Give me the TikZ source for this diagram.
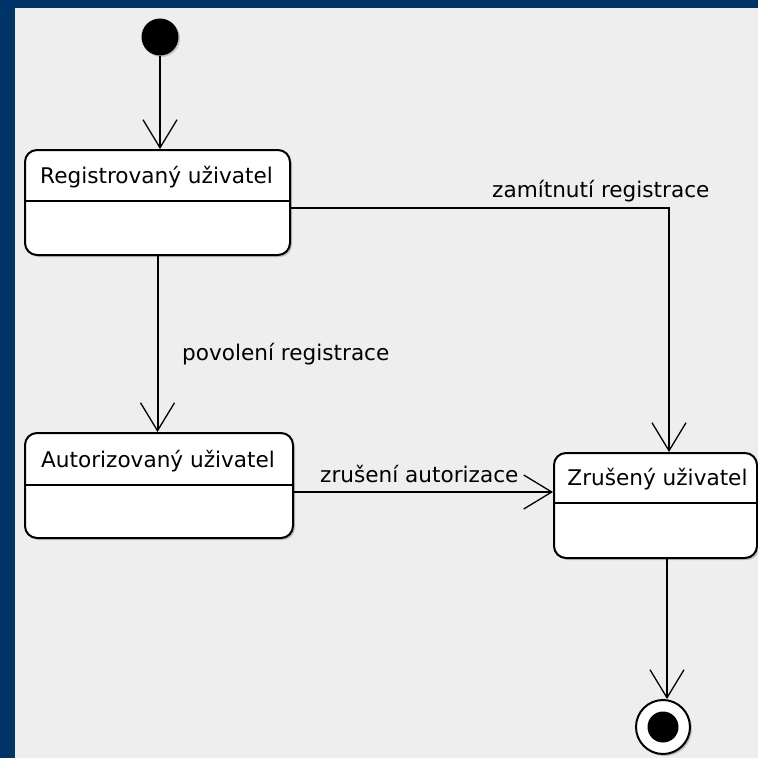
\documentclass[tikz,border=0pt]{standalone}
\usepackage{fontspec}
\setmainfont{DejaVu Sans}
\usetikzlibrary{arrows.meta,shadows,calc}
\definecolor{navy}{RGB}{0,52,102}
\definecolor{bg}{RGB}{238,238,238}
\tikzset{
  state/.style={draw=black, line width=2pt, fill=white, rounded corners=12pt,
    drop shadow={shadow xshift=2pt, shadow yshift=-2pt, opacity=0.35, fill=black!60},
    inner sep=0pt},
  divider/.style={line width=2pt},
  arr/.style={line width=2pt, -{Straight Barb[length=28pt,width=34pt,line width=1.3pt]}},
  txt/.style={font=\fontsize{21.6}{26}\selectfont, inner sep=0pt, anchor=base},
  lbl/.style={font=\fontsize{21.6}{26}\selectfont, inner sep=0pt, anchor=base west},
}
\begin{document}
\begin{tikzpicture}[x=1pt,y=-1pt]
\useasboundingbox (0,0) rectangle (758,758);
\fill[navy] (0,0) rectangle (758,758);
\fill[bg] (15,8) rectangle (758,758);

% initial state
\node[circle, fill=black, minimum size=37pt, inner sep=0pt,
  drop shadow={shadow xshift=1.5pt, shadow yshift=-1.5pt, opacity=0.3, fill=black!60}] (init) at (160,37) {};

% states
\node[state, minimum width=265pt, minimum height=105pt] (reg) at (157.5,202.5) {};
\draw[divider] (reg.west |- 0,201) -- (reg.east |- 0,201);
\node[txt] (regt) at (156.5,183) {Registrovaný uživatel};

\node[state, minimum width=268pt, minimum height=105pt] (aut) at (159,485.5) {};
\draw[divider] (aut.west |- 0,485) -- (aut.east |- 0,485);
\node[txt] (autt) at (158,467) {Autorizovaný uživatel};

\node[state, minimum width=203pt, minimum height=105pt] (zr) at (655.5,505.5) {};
\draw[divider] (zr.west |- 0,503) -- (zr.east |- 0,503);
\node[txt] (zrt) at (657.5,485) {Zrušený uživatel};

% final state
\node[circle, draw=black, line width=2pt, fill=white, minimum size=54pt, inner sep=0pt,
  drop shadow={shadow xshift=2pt, shadow yshift=-2pt, opacity=0.35, fill=black!60}] (fin) at (663,727) {};
\node[circle, fill=black, minimum size=31pt, inner sep=0pt] (finin) at (fin.center) {};

% transitions
\draw[arr] (init.south) -- (init.south |- reg.north);
\draw[arr] (reg.south) -- (reg.south |- aut.north);
\draw[arr] ([yshift=-5pt]reg.east) -| ([xshift=13.5pt]zr.north);
\draw[arr] ([yshift=-6.5pt]aut.east) -- ([yshift=-6.5pt]aut.east -| zr.west);
\draw[arr] ([xshift=11.5pt]zr.south) -- ([xshift=11.5pt]zr.south |- fin.north);

% labels
\node[lbl] (l1) at (182,360) {povolení registrace};
\node[lbl] (l2) at (492,197) {zamítnutí registrace};
\node[lbl] (l3) at (320,482) {zrušení autorizace};
\end{tikzpicture}
\end{document}
